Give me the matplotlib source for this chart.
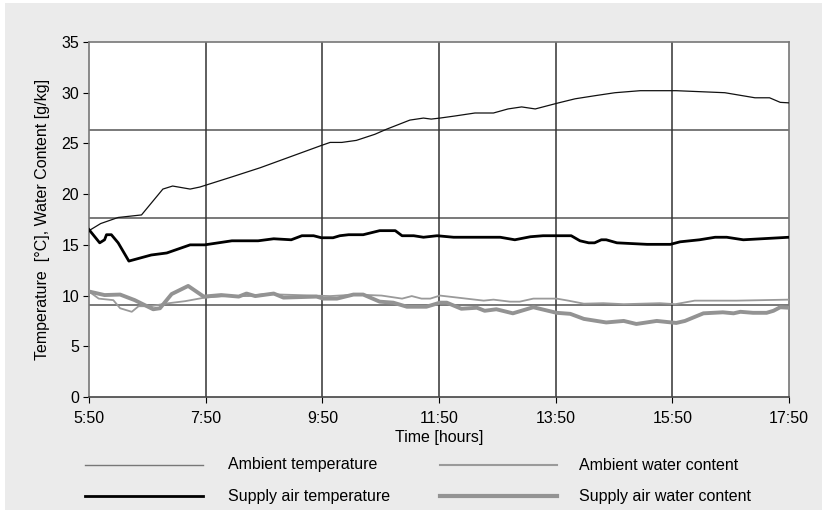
import matplotlib
matplotlib.use("Agg")
import matplotlib.pyplot as plt
from matplotlib.lines import Line2D
from matplotlib.patches import Rectangle

plt.rcParams['font.family'] = ['Liberation Sans', 'DejaVu Sans']

# minutes after 5:50
amb_t_x = [0, 12, 30, 54, 76, 86, 104, 114, 147, 176, 239, 248, 260, 275, 294, 306, 330, 344, 352, 361,
           376, 397, 416, 431, 445, 459, 483, 500, 520, 541, 567, 604, 654, 685, 700, 711, 720]
amb_t_y = [16.4, 17.1, 17.7, 17.95, 20.5, 20.8, 20.5, 20.7, 21.7, 22.6, 24.8, 25.1, 25.1, 25.3, 25.9, 26.4,
           27.3, 27.5, 27.4, 27.5, 27.7, 28.0, 28.0, 28.4, 28.6, 28.4, 29.0, 29.4, 29.7, 30.0, 30.2, 30.2,
           30.0, 29.5, 29.5, 29.05, 29.0]

sup_t_x = [0, 11, 16, 18, 23, 30, 41, 64, 80, 104, 119, 133, 147, 174, 190, 208, 219, 231, 239, 251, 258,
           267, 282, 299, 315, 322, 334, 344, 358, 375, 423, 438, 454, 467, 496, 505, 514, 520, 527, 532,
           543, 574, 598, 608, 628, 644, 656, 673, 720]
sup_t_y = [16.5, 15.2, 15.5, 16.0, 16.0, 15.2, 13.4, 14.0, 14.2, 15.0, 15.0, 15.2, 15.4, 15.4, 15.6, 15.5,
           15.9, 15.9, 15.7, 15.7, 15.9, 16.0, 16.0, 16.4, 16.4, 15.9, 15.9, 15.75, 15.9, 15.75, 15.75, 15.5,
           15.8, 15.9, 15.9, 15.4, 15.2, 15.2, 15.5, 15.5, 15.2, 15.05, 15.05, 15.3, 15.5, 15.75, 15.75, 15.5,
           15.75]

amb_w_x = [0, 10, 25, 32, 44, 51, 64, 78, 99, 119, 140, 164, 181, 248, 275, 301, 322, 332, 342, 351, 361,
           406, 416, 433, 443, 457, 481, 493, 509, 529, 550, 587, 603, 623, 666, 720]
amb_w_y = [10.4, 9.7, 9.55, 8.75, 8.4, 8.95, 8.95, 9.2, 9.45, 9.8, 9.95, 9.95, 10.15, 9.95, 10.1, 10.0, 9.7,
           9.95, 9.7, 9.7, 10.0, 9.5, 9.6, 9.4, 9.4, 9.7, 9.7, 9.5, 9.2, 9.25, 9.15, 9.25, 9.15, 9.5, 9.5, 9.6]

sup_w_x = [0, 16, 32, 47, 66, 73, 85, 102, 118, 136, 154, 162, 171, 190, 200, 234, 241, 255, 272, 282, 299,
           313, 327, 347, 361, 368, 383, 399, 407, 419, 436, 457, 481, 495, 509, 532, 550, 563, 584, 604,
           613, 632, 652, 663, 670, 683, 697, 704, 711, 720]
sup_w_y = [10.4, 10.05, 10.1, 9.55, 8.65, 8.75, 10.15, 10.95, 9.9, 10.05, 9.9, 10.2, 9.95, 10.2, 9.8, 9.9,
           9.7, 9.7, 10.1, 10.1, 9.4, 9.3, 8.9, 8.9, 9.3, 9.3, 8.7, 8.8, 8.5, 8.65, 8.25, 8.85, 8.3, 8.2, 7.7,
           7.35, 7.5, 7.2, 7.5, 7.3, 7.5, 8.25, 8.35, 8.25, 8.4, 8.3, 8.3, 8.5, 8.85, 8.8]

x_ticks = [0, 120, 240, 360, 480, 600, 720]
x_labels = ["5:50", "7:50", "9:50", "11:50", "13:50", "15:50", "17:50"]
y_ticks = [0, 5, 10, 15, 20, 25, 30, 35]
h_grid = [9.05, 17.65, 26.3]
legend_labels = ["Ambient temperature", "Ambient water content",
                 "Supply air temperature", "Supply air water content"]

W, H = 822, 513
fig = plt.figure(figsize=(W / 100, H / 100), dpi=100)
fig.patch.set_facecolor('white')
fig.add_artist(Rectangle((5 / W, 3 / H), 1 - 5 / W, 1 - 6 / H, transform=fig.transFigure,
                         facecolor='#ebebeb', edgecolor='none', zorder=-10))

ax = fig.add_axes([89 / W, 1 - 397 / H, 700 / W, 355 / H])
ax.set_facecolor('white')
ax.set_xlim(0, 720)
ax.set_ylim(0, 35)

for g in h_grid:
    ax.axhline(g, color='#555555', lw=1.1, zorder=1)
for xv in x_ticks[1:-1]:
    ax.axvline(xv, color='#333333', lw=1.1, zorder=1)

ax.plot(amb_w_x, amb_w_y, color='#9a9a9a', lw=1.3, zorder=3)
ax.plot(sup_w_x, sup_w_y, color='#939393', lw=2.8, zorder=4)
ax.plot(amb_t_x, amb_t_y, color='#111111', lw=0.9, zorder=3)
ax.plot(sup_t_x, sup_t_y, color='black', lw=2.0, zorder=4)

for s in ['left', 'top', 'right']:
    ax.spines[s].set_color('#777777')
    ax.spines[s].set_linewidth(1.2)
ax.spines['bottom'].set_color('#444444')
ax.spines['bottom'].set_linewidth(1.2)

ax.set_xticks(x_ticks)
ax.set_xticklabels(x_labels)
ax.set_yticks(y_ticks)
ax.tick_params(axis='both', labelsize=11.5, colors='black', length=4, width=0.8)
ax.tick_params(axis='x', pad=6)
ax.tick_params(axis='y', pad=3)

ax.set_xlabel("Time [hours]", fontsize=11.5, labelpad=3)
ax.set_ylabel("Temperature  [°C], Water Content [g/kg]", fontsize=11.5, labelpad=8)

# legend
rows = [1 - 465 / H, 1 - 496 / H]
styles = [('#777777', 1.0), ('#9a9a9a', 1.5), ('black', 2.0), ('#939393', 3.0)]
pos = [(85, 203, 228), (440, 557, 579)]
for i, lab in enumerate(legend_labels):
    r = i // 2
    c = i % 2
    x0, x1, xt = pos[c]
    col, lw = styles[i]
    fig.add_artist(Line2D([x0 / W, x1 / W], [rows[r], rows[r]], transform=fig.transFigure,
                          color=col, lw=lw))
    fig.text(xt / W, rows[r], lab, fontsize=11.5, va='center', ha='left')

fig.savefig("out.png", dpi=100)
